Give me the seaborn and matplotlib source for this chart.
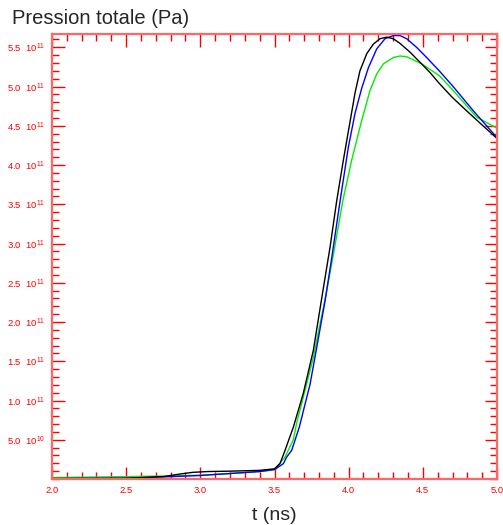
import matplotlib
matplotlib.use("Agg")
import matplotlib.pyplot as plt
from matplotlib.ticker import MultipleLocator, FixedLocator
import seaborn as sns
import pandas as pd

# Pression totale (unites de 1e10 Pa) en fonction du temps (ns)
t_noir = [2.0, 2.5, 2.75, 2.85, 2.95, 3.05, 3.2, 3.4, 3.5, 3.537, 3.571, 3.627, 3.694, 3.762,
          3.818, 3.875, 3.919, 3.964, 4.009, 4.043, 4.076, 4.122, 4.166, 4.211, 4.256, 4.301,
          4.346, 4.413, 4.481, 4.548, 4.611, 4.7, 4.796, 4.9, 5.0]
p_noir = [0.05, 0.1, 0.3, 0.6, 0.85, 0.95, 1.0, 1.1, 1.3, 1.96, 3.65, 6.6, 10.9, 16.4,
          23.0, 29.6, 35.4, 40.6, 45.5, 49.2, 52.0, 54.2, 55.4, 56.1, 56.3, 56.1,
          55.5, 54.4, 53.1, 51.8, 50.4, 48.6, 46.9, 45.1, 43.4]

t_bleu = [2.0, 2.5, 2.8, 3.0, 3.2, 3.4, 3.5, 3.56, 3.582, 3.616, 3.667, 3.74, 3.785, 3.841,
          3.886, 3.942, 3.998, 4.043, 4.088, 4.133, 4.189, 4.245, 4.301, 4.346, 4.391,
          4.458, 4.526, 4.611, 4.7, 4.841, 5.0]
p_bleu = [0.05, 0.1, 0.3, 0.45, 0.7, 0.95, 1.2, 1.96, 2.8, 3.65, 6.6, 12.1, 16.8, 22.7,
          28.2, 35.4, 42.3, 46.6, 49.8, 52.4, 54.8, 56.1, 56.5, 56.5, 56.1,
          55.0, 53.7, 52.0, 50.1, 46.9, 43.5]

t_vert = [2.0, 2.5, 2.8, 3.0, 3.2, 3.4, 3.5, 3.571, 3.627, 3.649, 3.762, 3.852, 3.897, 3.96,
          4.02, 4.088, 4.144, 4.189, 4.234, 4.301, 4.346, 4.391, 4.436, 4.492, 4.548,
          4.611, 4.7, 4.863, 5.0]
p_vert = [0.18, 0.3, 0.4, 0.47, 0.7, 0.95, 1.2, 2.8, 5.0, 7.1, 15.5, 24.0, 28.6, 35.4,
          40.6, 45.7, 49.5, 51.6, 52.9, 53.7, 53.9, 53.8, 53.4, 52.9, 52.2,
          51.4, 49.6, 46.1, 44.7]

y_ticks = [5e10, 1e11, 1.5e11, 2e11, 2.5e11, 3e11, 3.5e11, 4e11, 4.5e11, 5e11, 5.5e11]
y_labels = [r"5.0  $10^{10}$", r"1.0  $10^{11}$", r"1.5  $10^{11}$", r"2.0  $10^{11}$",
            r"2.5  $10^{11}$", r"3.0  $10^{11}$", r"3.5  $10^{11}$", r"4.0  $10^{11}$",
            r"4.5  $10^{11}$", r"5.0  $10^{11}$", r"5.5  $10^{11}$"]
x_ticks = [2.0, 2.5, 3.0, 3.5, 4.0, 4.5, 5.0]
x_labels = ["2.0", "2.5", "3.0", "3.5", "4.0", "4.5", "5.0"]

sns.set_style("ticks")
plt.rcParams["font.family"] = ["Liberation Sans", "DejaVu Sans"]
plt.rcParams["mathtext.fontset"] = "custom"
plt.rcParams["mathtext.rm"] = "Liberation Sans"

rouge = "#ff0000"

fig = plt.figure(figsize=(5.03, 5.25), dpi=100)
ax = fig.add_axes([52 / 503, 1 - 479 / 525, 445 / 503, 445 / 525])

for t, p, c in [(t_vert, p_vert, "#00ee00"), (t_bleu, p_bleu, "#0000ff"), (t_noir, p_noir, "#000000")]:
    df = pd.DataFrame({"t": t, "p": [v * 1e10 for v in p]})
    sns.lineplot(data=df, x="t", y="p", sort=False, color=c, linewidth=1.0, ax=ax)

ax.set_xlim(2.0, 5.0)
ax.set_ylim(0, 5.67e11)

ax.xaxis.set_major_locator(FixedLocator(x_ticks))
ax.set_xticklabels(x_labels)
ax.xaxis.set_minor_locator(MultipleLocator(0.1))
ax.yaxis.set_major_locator(FixedLocator(y_ticks))
ax.set_yticklabels(y_labels)
ax.yaxis.set_minor_locator(MultipleLocator(1e10))

ax.tick_params(which="both", direction="in", top=True, right=True, colors=rouge,
               labelsize=6.8, width=1.0)
ax.tick_params(which="major", length=9, pad=5)
ax.tick_params(which="minor", length=5)
for s in ax.spines.values():
    s.set_color("#ff6666")
    s.set_linewidth(1.6)

ax.set_xlabel("t (ns)", fontsize=14, labelpad=9)
ax.set_ylabel("")
fig.text(12 / 503, 1 - 18 / 525, "Pression totale (Pa)", fontsize=14.5, va="center", ha="left")

fig.savefig("out.png", dpi=100)
